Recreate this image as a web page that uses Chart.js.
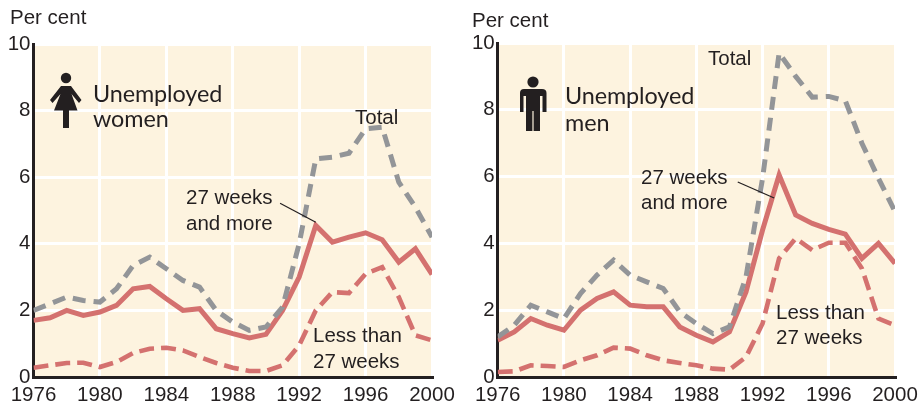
<!DOCTYPE html>
<html>
<head>
<meta charset="utf-8">
<title>Unemployed women and men</title>
<script src="https://cdn.jsdelivr.net/npm/chart.js@4/dist/chart.umd.min.js"></script>
<style>
  html, body { margin: 0; padding: 0; background: #fff; }
  #page { position: relative; width: 921px; height: 403px; overflow: hidden; }
  canvas { position: absolute; top: 0; }
  .lbl { position: absolute; white-space: nowrap; transform: translateY(-50%); color: #231f20;
         font: 20.5px "Liberation Sans", Arial, sans-serif; line-height: 1; }
  .head { font: 23.4px Lato, sans-serif; letter-spacing: -0.1px; }
  svg { position: absolute; left: 0; top: 0; }
</style>
</head>
<body>
<div id="page">
  <canvas id="womenChart" width="460" height="403" style="left:0"></canvas>
  <canvas id="menChart" width="461" height="403" style="left:460px"></canvas>

  <svg width="921" height="403" fill="#231f20">
    <!-- woman -->
    <circle cx="66" cy="78" r="5.2"/>
    <path d="M61 86 L71 86 L81.5 100 L79 103 L71.5 94 L77.5 110.5 L69 110.5 L69 128 L63 128 L63 110.5 L54 110.5 L60.5 94 L52.5 103 L50 100 Z"/>
    <!-- man -->
    <circle cx="533" cy="82" r="5.6"/>
    <path d="M524 89 L542 89 Q546.5 89 546.5 93 L546.5 112 L542.5 112 L542.5 96 L540 96 L540 131 L533.6 131 L533.6 111 L532.4 111 L532.4 131 L526 131 L526 96 L523.5 96 L523.5 112 L520 112 L520 93 Q520 89 524 89 Z"/>
  </svg>

  <div class="lbl" style="left:10px;top:17px">Per cent</div>
  <div class="lbl head" style="left:93px;top:93px">Unemployed</div>
  <div class="lbl head" style="left:93px;top:118px">women</div>
  <div class="lbl" style="left:355px;top:117px">Total</div>
  <div class="lbl" style="left:186px;top:197px">27 weeks</div>
  <div class="lbl" style="left:186px;top:223px">and more</div>
  <div class="lbl" style="left:313px;top:335px">Less than</div>
  <div class="lbl" style="left:313px;top:361px">27 weeks</div>

  <div class="lbl" style="left:472px;top:20px">Per cent</div>
  <div class="lbl head" style="left:565px;top:95px">Unemployed</div>
  <div class="lbl head" style="left:565px;top:122px">men</div>
  <div class="lbl" style="left:708px;top:58px">Total</div>
  <div class="lbl" style="left:641px;top:177px">27 weeks</div>
  <div class="lbl" style="left:641px;top:202px">and more</div>
  <div class="lbl" style="left:776px;top:312px">Less than</div>
  <div class="lbl" style="left:776px;top:337px">27 weeks</div>
</div>

<script>
// Data
const years = [1976, 1977, 1978, 1979, 1980, 1981, 1982, 1983, 1984, 1985, 1986, 1987,
               1988, 1989, 1990, 1991, 1992, 1993, 1994, 1995, 1996, 1997, 1998, 1999, 2000];

const womenTotal = [2.0, 2.2, 2.4, 2.3, 2.25, 2.65, 3.35, 3.6, 3.25, 2.9, 2.7, 2.0,
                    1.65, 1.4, 1.5, 2.1, 4.0, 6.55, 6.6, 6.72, 7.45, 7.5, 5.85, 5.1, 4.2];
const womenLong  = [1.7, 1.78, 2.0, 1.85, 1.95, 2.15, 2.65, 2.72, 2.35, 2.0, 2.05, 1.45,
                    1.3, 1.17, 1.28, 2.0, 3.0, 4.55, 4.05, 4.2, 4.33, 4.12, 3.45, 3.85, 3.08];
const womenShort = [0.28, 0.35, 0.42, 0.43, 0.3, 0.45, 0.72, 0.85, 0.88, 0.8, 0.6, 0.42,
                    0.28, 0.18, 0.18, 0.35, 0.95, 2.0, 2.55, 2.52, 3.1, 3.3, 2.4, 1.25, 1.1];

const menTotal = [1.2, 1.55, 2.15, 1.95, 1.75, 2.5, 3.05, 3.5, 3.05, 2.85, 2.65, 1.95,
                  1.6, 1.3, 1.5, 3.0, 5.95, 9.7, 9.0, 8.38, 8.4, 8.27, 7.0, 5.95, 4.95];
const menLong  = [1.1, 1.35, 1.75, 1.55, 1.4, 2.0, 2.35, 2.55, 2.15, 2.1, 2.1, 1.5,
                  1.25, 1.05, 1.35, 2.55, 4.4, 6.05, 4.85, 4.6, 4.42, 4.28, 3.55, 4.0, 3.4];
const menShort = [0.15, 0.17, 0.35, 0.33, 0.3, 0.5, 0.65, 0.88, 0.85, 0.65, 0.5, 0.42,
                  0.35, 0.25, 0.22, 0.6, 1.6, 3.55, 4.15, 3.8, 4.02, 4.02, 3.25, 1.75, 1.55];

const GREY = '#939598', RED = '#d4716f', INK = '#231f20', PANEL = '#fdf3df';
const TICK_FONT = { family: '"Liberation Sans", Arial, sans-serif', size: 20.5 };

const toPoints = vals => vals.map((v, i) => ({ x: years[i], y: v }));

/* ── Panel background and leader line ─────────────────── */
const panelPlugin = {
  id: 'panel',
  beforeDraw(chart) {
    const { ctx, chartArea: a } = chart;
    ctx.save();
    ctx.fillStyle = PANEL;
    ctx.fillRect(a.left, a.top, a.right - a.left, a.bottom - a.top);
    ctx.restore();
  },
  afterDraw(chart, args, opts) {
    const { ctx, scales: { x, y } } = chart;
    const [from, to] = opts.leader;
    ctx.save();
    ctx.strokeStyle = INK;
    ctx.lineWidth = 1.2;
    ctx.beginPath();
    ctx.moveTo(x.getPixelForValue(from[0]), y.getPixelForValue(from[1]));
    ctx.lineTo(x.getPixelForValue(to[0]), y.getPixelForValue(to[1]));
    ctx.stroke();
    ctx.restore();
  }
};

function makePanel(id, total, long, short, box) {
  new Chart(document.getElementById(id), {
    type: 'line',
    data: {
      datasets: [
        { label: 'Total', data: toPoints(total), borderColor: GREY, borderWidth: 5, borderDash: [13, 8] },
        { label: 'Less than 27 weeks', data: toPoints(short), borderColor: RED, borderWidth: 4.6, borderDash: [15, 7] },
        { label: '27 weeks and more', data: toPoints(long), borderColor: RED, borderWidth: 5 }
      ]
    },
    options: {
      responsive: false,
      animation: false,
      events: [],
      elements: { point: { radius: 0 }, line: { tension: 0, borderJoinStyle: 'miter', borderCapStyle: 'butt' } },
      layout: { padding: { top: box.top, right: box.right, left: 0, bottom: 0 } },
      plugins: { legend: { display: false }, tooltip: { enabled: false }, panel: { leader: box.leader } },
      scales: {
        x: {
          type: 'linear', min: 1976, max: 2000,
          // the edge labels must not push the plot area in
          afterFit: s => { s.height = 26; s.paddingLeft = 0; s.paddingRight = 0; },
          grid: { color: '#ffffff', lineWidth: 3, drawTicks: false },
          border: { color: INK, width: 3 },
          ticks: {
            stepSize: 4, padding: 6, color: INK, font: TICK_FONT, maxRotation: 0,
            autoSkip: false, callback: v => String(v)
          }
        },
        y: {
          min: 0, max: 10,
          afterFit: s => { s.width = box.left; },
          grid: { color: '#ffffff', lineWidth: 3, drawTicks: false },
          border: { color: INK, width: 3 },
          ticks: { stepSize: 2, padding: 3, color: INK, font: TICK_FONT }
        }
      }
    },
    plugins: [panelPlugin]
  });
}

makePanel('womenChart', womenTotal, womenLong, womenShort,
  { left: 33.5, right: 28, top: 44, leader: [[1990.85, 5.22], [1993, 4.65]] });
makePanel('menChart', menTotal, menLong, menShort,
  { left: 37.7, right: 26, top: 43, leader: [[1990.5, 5.84], [1992.7, 5.36]] });
</script>
</body>
</html>
